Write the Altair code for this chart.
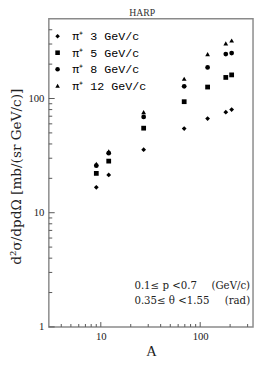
import altair as alt
import pandas as pd

# ---- data ----
targets = ["Be", "C", "Al", "Cu", "Sn", "Ta", "Pb"]
mass_number = [9.01, 12.01, 26.98, 69.0, 118.7, 180.9, 207.2]
series = ["π⁺ 3 GeV/c", "π⁺ 5 GeV/c", "π⁺ 8 GeV/c", "π⁺ 12 GeV/c"]
xsec_3 = [16.7, 21.4, 35.6, 54.6, 66.8, 76.0, 80.0]
xsec_5 = [22.1, 28.3, 55.0, 93.8, 126.0, 153.0, 161.0]
xsec_8 = [25.8, 33.2, 69.0, 128.0, 187.0, 245.0, 250.0]
xsec_12 = [26.8, 34.5, 76.0, 149.0, 245.0, 304.0, 322.0]
shapes = ["diamond", "square", "circle", "triangle-up"]

y_major = [1, 10, 100]
y_minor = [2, 3, 4, 5, 6, 7, 8, 9, 20, 30, 40, 50, 60, 70, 80, 90, 200, 300, 400]
x_major = [10, 100]
x_minor = [4, 5, 6, 7, 8, 9, 20, 30, 40, 50, 60, 70, 80, 90, 200, 300]
title_text = ["HARP"]
note_values = ["0.1≤ p <0.7\n0.35≤ θ <1.55"]
note_units = ["(GeV/c)\n(rad)"]

rows = []
for s, vals in zip(series, [xsec_3, xsec_5, xsec_8, xsec_12]):
    for t, a, v in zip(targets, mass_number, vals):
        rows.append({"target": t, "A": a, "v": v, "series": s})
df = pd.DataFrame(rows)

W, H = 210, 317
xs = alt.Scale(type="log", domain=[3, 340], nice=False)
ys = alt.Scale(type="log", domain=[1, 500], nice=False)
SERIF = "Liberation Serif"

points = alt.Chart(df).mark_point(filled=True, opacity=1, color="black", size=24).encode(
    x=alt.X("A:Q", scale=xs, axis=alt.Axis(
        values=x_major, format="d", ticks=False, domain=False, grid=False,
        labelFont=SERIF, labelFontSize=11, labelColor="#222", labelPadding=4,
        title="A", titleFont=SERIF, titleFontSize=15, titleFontWeight="normal",
        titleColor="#222", titlePadding=2)),
    y=alt.Y("v:Q", scale=ys, axis=alt.Axis(
        values=y_major, format="d", ticks=False, domain=False, grid=False,
        labelFont=SERIF, labelFontSize=11, labelColor="#222", labelPadding=5,
        title="d²σ/dpdΩ [mb/(sr GeV/c)]", titleFont="DejaVu Serif", titleFontSize=14,
        titleFontWeight="normal", titleColor="#222", titleX=-33, titleY=162,
        titleAngle=270, titleAlign="center", titleBaseline="middle")),
    shape=alt.Shape("series:N", scale=alt.Scale(domain=series, range=shapes),
                    legend=alt.Legend(title=None, orient="none", legendX=3, legendY=12,
                                      labelFont="Liberation Mono", labelFontSize=12,
                                      labelColor="black", symbolSize=22, rowPadding=5,
                                      labelOffset=9, symbolFillColor="black",
                                      symbolStrokeColor="black", symbolStrokeWidth=0)),
)

def yticks(vals, length):
    return alt.Chart(pd.DataFrame({"v": vals})).mark_rule(color="#555", strokeWidth=1).encode(
        y=alt.Y("v:Q", scale=ys), x=alt.value(0), x2=alt.value(length))

def xticks(vals, length):
    return alt.Chart(pd.DataFrame({"A": vals})).mark_rule(color="#555", strokeWidth=1).encode(
        x=alt.X("A:Q", scale=xs), y=alt.value(H), y2=alt.value(H - length))

title = alt.Chart(pd.DataFrame({"t": title_text})).mark_text(
    font=SERIF, fontSize=10, color="#333", baseline="bottom", align="center").encode(
    text="t:N", x=alt.value(96), y=alt.value(-0.5))

notes_v = alt.Chart(pd.DataFrame({"t": note_values})).mark_text(
    font="DejaVu Serif", fontSize=10.5, color="#222", align="left", baseline="middle",
    lineBreak="\n", lineHeight=15).encode(
    text="t:N", x=alt.value(88), y=alt.value(275))

notes_u = alt.Chart(pd.DataFrame({"t": note_units})).mark_text(
    font="DejaVu Serif", fontSize=10.5, color="#222", align="right", baseline="middle",
    lineBreak="\n", lineHeight=15).encode(
    text="t:N", x=alt.value(207), y=alt.value(275))

chart = alt.layer(
    points, yticks(y_minor, 3.5), yticks(y_major, 6), xticks(x_minor, 3), xticks(x_major, 5),
    notes_v, notes_u, title
).properties(
    width=W, height=H, autosize="none",
    padding={"left": 42, "top": 6, "right": 1, "bottom": 28}
).configure_view(stroke="#8a8a8a", strokeWidth=1.5)

chart.save("out.html", embed_options={"renderer": "svg", "actions": False})
